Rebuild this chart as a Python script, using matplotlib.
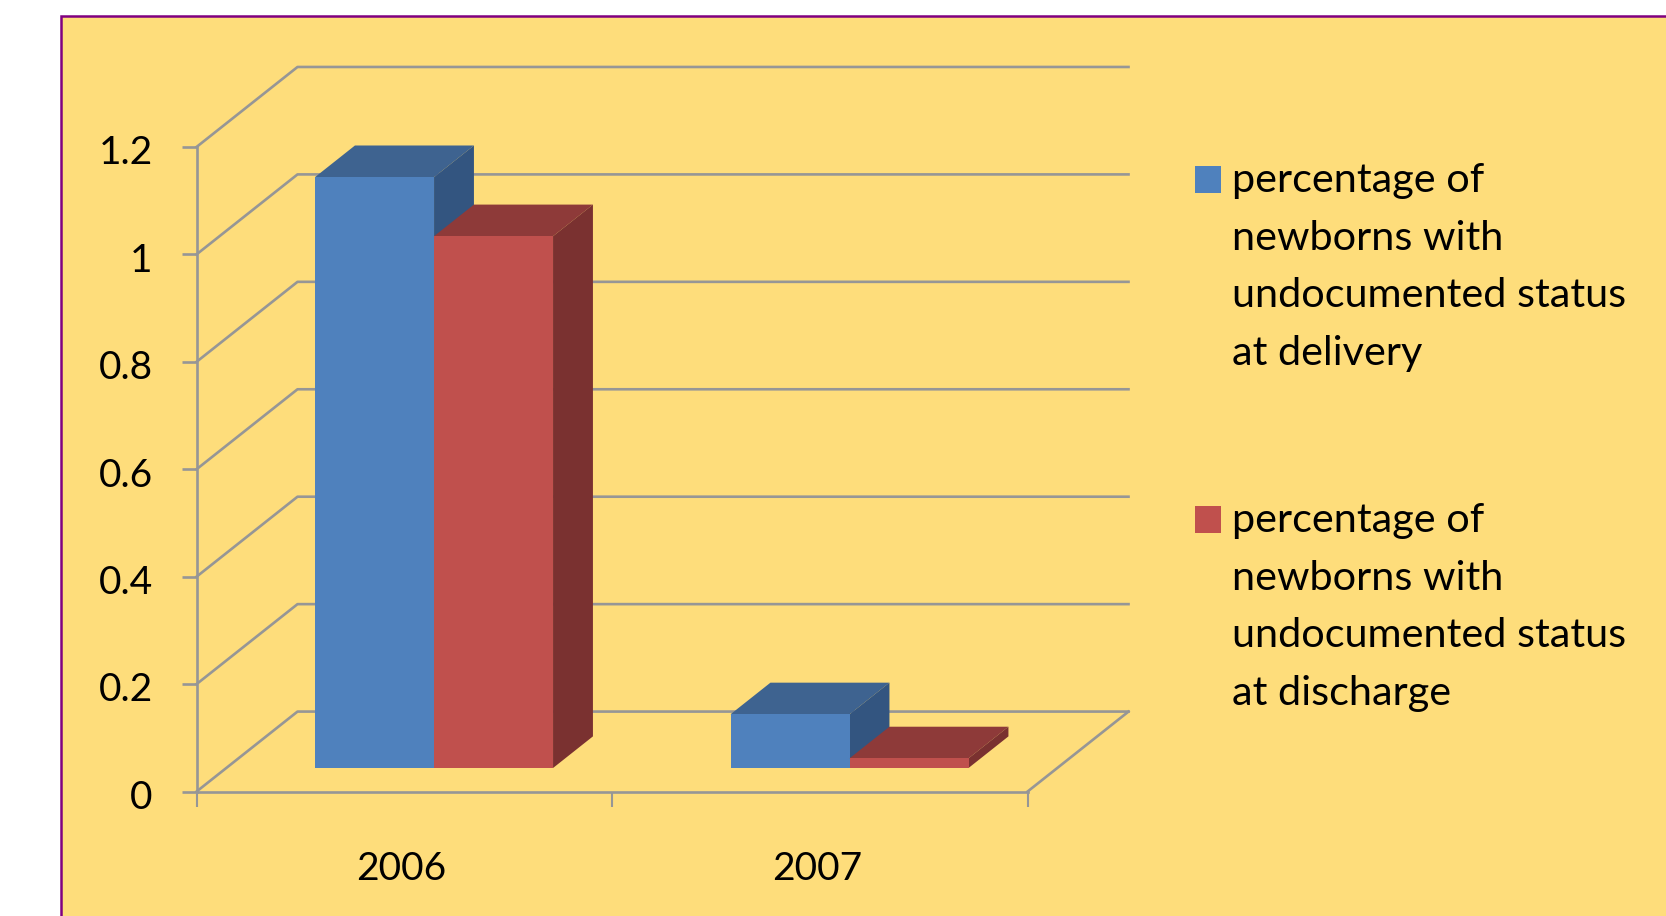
import matplotlib
matplotlib.use("Agg")
import matplotlib.pyplot as plt
from matplotlib.patches import Rectangle
from matplotlib.transforms import Affine2D, ScaledTranslation

plt.rcParams['font.family'] = ['Lato', 'DejaVu Sans']

years = ['2006', '2007']
at_delivery = [1.1, 0.1]
at_discharge = [0.99, 0.018]
yticks = [0, 0.2, 0.4, 0.6, 0.8, 1, 1.2]
ytick_labels = ['0', '0.2', '0.4', '0.6', '0.8', '1', '1.2']
legend_labels = [
    'percentage of\nnewborns with\nundocumented status\nat delivery',
    'percentage of\nnewborns with\nundocumented status\nat discharge',
]

W, H = 1666, 916
BG = '#FEDD7B'
GRID = '#969696'
BLUE = ('#4F81BD', '#3E6390', '#335580')
RED = ('#C0504D', '#8E3A39', '#7A3130')

fig = plt.figure(figsize=(W / 100, H / 100), dpi=100, facecolor='white')

# yellow panel, runs off the right and bottom of the image
fig.add_artist(Rectangle((61 / W, -0.02), 1.1, 1.02 - 16 / H, transform=fig.transFigure,
                         facecolor=BG, edgecolor='#800080', linewidth=1.8, zorder=-1))

# front plane of the fake 3D box
ax = fig.add_axes([196.5 / W, 1 - 791.6 / H, 831 / W, 644.6 / H])
ax.patch.set_alpha(0)
ax.set_xlim(0, 2)
ax.set_ylim(0, 1.2)

# how far one full step into the box moves things, in data units
DX = 101 / 415.5
DY = 80 / 537
BAR_W = 0.2864
D0, D1 = 0.295, 0.69


def deep(x, y, d):
    return x + d * DX, y + d * DY


def poly(points, color, z):
    xs, ys = zip(*[deep(*p) for p in points])
    ax.fill(xs, ys, color=color, lw=0, zorder=z, clip_on=False)


# walls and floor
for v in yticks:
    x1, y1 = deep(0, v, 1)
    x2, y2 = deep(2, v, 1)
    ax.plot([0, x1, x2], [v, y1, y2], color=GRID, lw=1.9, zorder=1, clip_on=False)
x1, y1 = deep(2, 0, 1)
ax.plot([2, x1], [0, y1], color=GRID, lw=1.9, zorder=1, clip_on=False)

# bars: front face through ax.bar, top and side as parallelograms
front = Affine2D().translate(D0 * DX, D0 * DY) + ax.transData
for k, (vals, cols) in enumerate([(at_delivery, BLUE), (at_discharge, RED)]):
    for i, v in enumerate(vals):
        left = i + 0.5 + (k - 1) * BAR_W
        right = left + BAR_W
        z = 3 + k + 3 * i
        poly([(left, v, D0), (right, v, D0), (right, v, D1), (left, v, D1)], cols[1], z)
        poly([(right, 0, D0), (right, v, D0), (right, v, D1), (right, 0, D1)], cols[2], z)
        ax.bar(left, v, width=BAR_W, align='edge', color=cols[0], lw=0,
               transform=front, zorder=z + 0.5, clip_on=False)

for side in ['top', 'right']:
    ax.spines[side].set_visible(False)
for side in ['left', 'bottom']:
    ax.spines[side].set_color(GRID)
    ax.spines[side].set_linewidth(1.9)

ax.set_yticks(yticks)
ax.set_yticklabels(ytick_labels)
ax.set_xticks([0, 1, 2])
ax.set_xticklabels([])
ax.set_xticks([0.5, 1.5], minor=True)
ax.set_xticklabels(years, minor=True)
ax.tick_params(axis='y', length=10.5, width=1.9, color=GRID, labelsize=28, pad=21)
ax.tick_params(axis='x', which='major', length=10.5, width=1.5, color=GRID)
ax.tick_params(axis='x', which='minor', length=0, labelsize=28, pad=43)

# nudge the labels to sit where the original ones do
nudge_y = ScaledTranslation(0, -2 / 72, fig.dpi_scale_trans)
for lab in ax.get_yticklabels():
    lab.set_transform(lab.get_transform() + nudge_y)
nudge_x = ScaledTranslation(-2 / 72, 0, fig.dpi_scale_trans)
for lab in ax.get_xticklabels(minor=True):
    lab.set_transform(lab.get_transform() + nudge_x)

# legend
for label, cols, top in zip(legend_labels, [BLUE, RED], [166, 506]):
    fig.add_artist(Rectangle((1195 / W, 1 - (top + 27) / H), 26 / W, 27 / H,
                             transform=fig.transFigure, facecolor=cols[0], lw=0))
    fig.text(1232 / W, 1 - (top - 4) / H, label, fontsize=29.8, color='black',
             va='top', ha='left', linespacing=1.69)

fig.savefig('out.png', dpi=100)
